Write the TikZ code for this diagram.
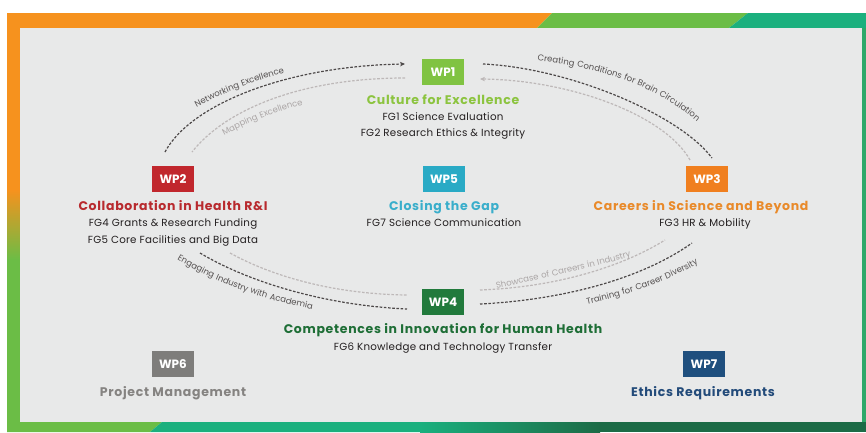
\documentclass[tikz,border=0pt]{standalone}
\usepackage{fontspec}
\newfontfamily\gf{Poppins}
\newfontfamily\gfw[LetterSpace=5.5]{Poppins}
\newfontfamily\gff[LetterSpace=2.5]{Poppins}
\newfontfamily\gfl[LetterSpace=6]{Poppins}
\usetikzlibrary{arrows.meta,decorations.text}
\definecolor{forange}{HTML}{F6921E}
\definecolor{fgreen}{HTML}{6BBD46}
\definecolor{fteal}{HTML}{1BB07E}
\definecolor{fdark}{HTML}{1C6B46}
\definecolor{fright}{HTML}{2FA86A}
\definecolor{panel}{HTML}{E8E9E9}
\definecolor{cwpone}{HTML}{80C342}
\definecolor{twpone}{HTML}{8CC43F}
\definecolor{cwptwo}{HTML}{C1272D}
\definecolor{twptwo}{HTML}{B82A2E}
\definecolor{cwpthree}{HTML}{F07F1F}
\definecolor{twpthree}{HTML}{E98A2A}
\definecolor{cwpfour}{HTML}{217A3C}
\definecolor{twpfour}{HTML}{1E6E36}
\definecolor{cwpfive}{HTML}{29AAC5}
\definecolor{twpfive}{HTML}{3AAECB}
\definecolor{cwpsix}{HTML}{7E7D7B}
\definecolor{twpsix}{HTML}{858381}
\definecolor{cwpseven}{HTML}{1F4F7E}
\definecolor{twpseven}{HTML}{234B7A}
\definecolor{fgtext}{HTML}{231F20}
\definecolor{arcdark}{HTML}{4D4949}
\definecolor{arclight}{HTML}{BDB8B8}
\definecolor{lbldark}{HTML}{555151}
\definecolor{lbllight}{HTML}{ABA6A6}
\newcommand{\wpfont}{\gf\bfseries\fontsize{12}{14}\selectfont}
\newcommand{\ttlfont}{\gfw\bfseries\fontsize{12.5}{14}\selectfont}
\newcommand{\fgfont}{\gff\fontsize{10.3}{12}\selectfont}
\newcommand{\lblfont}{\gfl\fontsize{8.5}{9}\selectfont}
\tikzset{
  wpbox/.style={fill=#1, minimum width=42pt, minimum height=26pt, inner sep=0pt, text=white, font=\wpfont},
  ttl/.style={anchor=base, inner sep=0pt, text=#1, font=\ttlfont},
  fgline/.style={anchor=base, inner sep=0pt, text=fgtext, font=\fgfont},
  darkarc/.style={draw=arcdark, line width=1.2pt, dash pattern=on 2.6pt off 1.6pt},
  lightarc/.style={draw=arclight, line width=1.2pt, dash pattern=on 2.6pt off 1.6pt},
  arctip/.style={-{Stealth[length=5pt,width=4.5pt]}},
}
\begin{document}
\begin{tikzpicture}[x=1pt,y=-1pt]
\useasboundingbox (0,0) rectangle (866,432);
\fill[white] (0,0) rectangle (866,432);
% frame
\fill[forange] (7,13) rectangle (20,190);
\shade[top color=forange,bottom color=fgreen] (7,190) rectangle (20,260);
\fill[fgreen] (7,260) rectangle (20,432);
\fill[forange] (7,13) -- (552,13) -- (537,28) -- (7,28) -- cycle;
\fill[fgreen] (552,13) -- (748,13) -- (729,28) -- (537,28) -- cycle;
\fill[fteal] (748,13) -- (866,13) -- (866,28) -- (729,28) -- cycle;
\fill[fright] (862,28) rectangle (866,422);
\fill[fgreen] (7,422) -- (162,422) -- (150,432) -- (7,432) -- cycle;
\fill[fteal] (162,422) -- (420,422) -- (420,432) -- (150,432) -- cycle;
\shade[left color=fteal,right color=fdark] (420,422) rectangle (600,432);
\fill[fdark] (600,422) rectangle (866,432);
\fill[panel] (20,28) rectangle (862,422);

% boxes
\node[wpbox=cwpone] (wp1) at (443,72) {WP1};
\node[wpbox=cwptwo] (wp2) at (173,179) {WP2};
\node[wpbox=cwpfive] (wp5) at (444,179) {WP5};
\node[wpbox=cwpthree] (wp3) at (707,179) {WP3};
\node[wpbox=cwpfour] (wp4) at (443,302) {WP4};
\node[wpbox=cwpsix] (wp6) at (173,364) {WP6};
\node[wpbox=cwpseven] (wp7) at (704,364) {WP7};

% titles and lines
\node[ttl=twpone] (t1) at (443,104) {Culture for Excellence};
\node[fgline] (fg1) at (443,120) {FG1 Science Evaluation};
\node[fgline] (fg2) at (443,136) {FG2 Research Ethics \& Integrity};
\node[ttl=twptwo] (t2) at (173,210) {Collaboration in Health R\&I};
\node[fgline] (fg4) at (173,226) {FG4 Grants \& Research Funding};
\node[fgline] (fg5) at (173,243) {FG5 Core Facilities and Big Data};
\node[ttl=twpfive] (t5) at (444,210) {Closing the Gap};
\node[fgline] (fg7) at (444,226) {FG7 Science Communication};
\node[ttl=twpthree] (t3) at (701,210) {Careers in Science and Beyond};
\node[fgline] (fg3) at (705,226) {FG3 HR \& Mobility};
\node[ttl=twpfour] (t4) at (443,333) {Competences in Innovation for Human Health};
\node[fgline] (fg6) at (443,350) {FG6 Knowledge and Technology Transfer};
\node[ttl=twpsix] (t6) at (173,396) {Project Management};
\node[ttl=twpseven] (t7) at (703,396) {Ethics Requirements};

% connector end points
\coordinate (a1) at (165,152);
\coordinate (a2) at (405,64);
\coordinate (b1) at (405,78);
\coordinate (b2) at (192,152);
\coordinate (c1) at (483,64);
\coordinate (c2) at (712,158);
\coordinate (d1) at (690,160);
\coordinate (d2) at (480,79);
\coordinate (e1) at (200,253);
\coordinate (e2) at (407,309);
\coordinate (f1) at (230,253);
\coordinate (f2) at (407,295);
\coordinate (g1) at (480,304);
\coordinate (g2) at (692,243);
\coordinate (h1) at (480,290);
\coordinate (h2) at (665,240);

\draw[darkarc,arctip] (a1) .. controls (190,105) and (285,66) .. (a2);
\draw[lightarc] (b1) .. controls (300,78) and (225,110) .. (b2);
\draw[darkarc] (c1) .. controls (570,68) and (680,115) .. (c2);
\draw[lightarc,arctip] (d1) .. controls (665,115) and (570,80) .. (d2);
\draw[darkarc] (e1) .. controls (245,280) and (320,305) .. (e2);
\draw[lightarc] (f1) .. controls (270,275) and (330,294) .. (f2);
\draw[darkarc] (g1) .. controls (560,300) and (640,280) .. (g2);
\draw[lightarc] (h1) .. controls (560,287) and (625,265) .. (h2);

% curved labels
\path[decorate, decoration={text along path, text align=center, text color=lbldark,
  text={|\lblfont|Networking Excellence}}] (172,122) .. controls (212,96) and (257,78) .. (312,66);
\path[decorate, decoration={text along path, text align=center, text color=lbllight,
  text={|\lblfont|Mapping Excellence}}] (203,148) .. controls (238,126) and (277,108) .. (327,100);
\path[decorate, decoration={text along path, text align=center, text color=lbldark,
  text={|\lblfont|Creating Conditions for Brain Circulation}}] (508,58) .. controls (600,64) and (670,88) .. (718,142);
\path[decorate, decoration={text along path, text align=center, text color=lbldark,
  text={|\lblfont|Engaging Industry with Academia}}] (162,250) .. controls (207,280) and (262,302) .. (330,312);
\path[decorate, decoration={text along path, text align=center, text color=lbllight,
  text={|\lblfont|Showcase of Careers in Industry}}] (472,293) .. controls (528,283) and (592,268) .. (655,250);
\path[decorate, decoration={text along path, text align=center, text color=lbldark,
  text={|\lblfont|Training for Career Diversity}}] (562,309) .. controls (620,299) and (672,282) .. (720,250);
\end{tikzpicture}
\end{document}
